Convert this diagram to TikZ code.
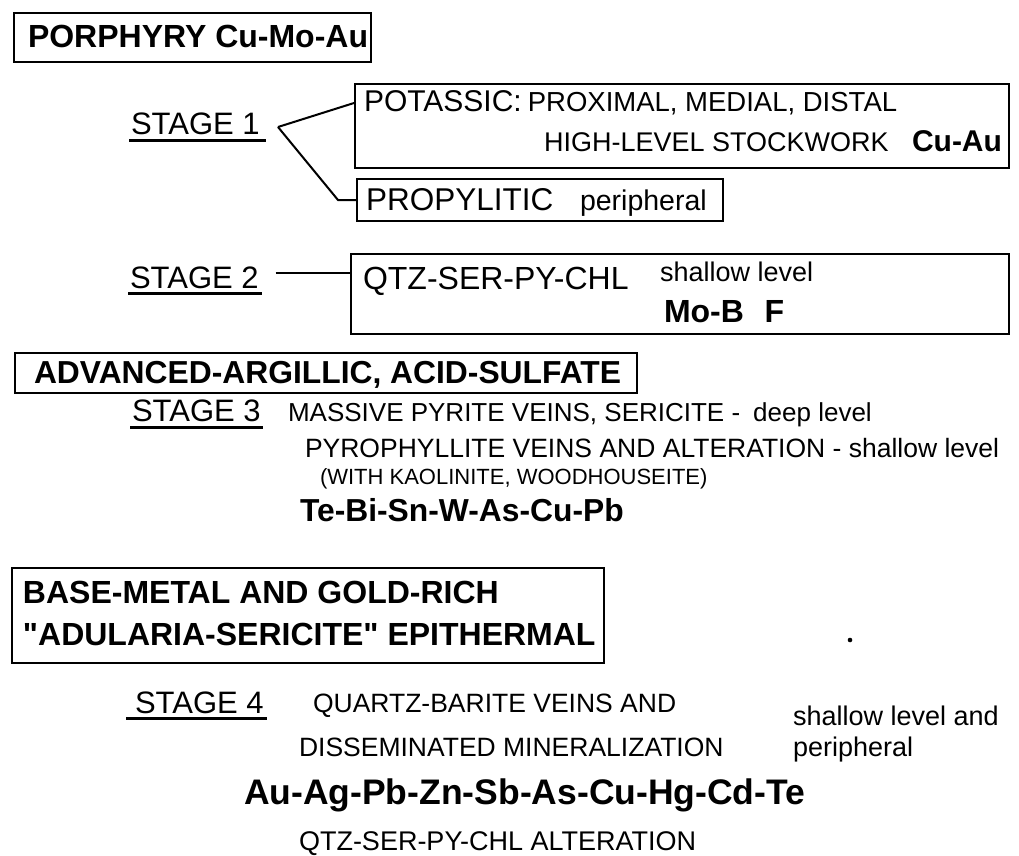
\documentclass[tikz,border=0pt]{standalone}
\usepackage{fontspec}
\setmainfont{Liberation Sans}
\usetikzlibrary{positioning}

\newcommand{\fsz}[1]{\fontsize{#1}{#1}\selectfont}
\newcommand{\sq}{\XeTeXglyph\XeTeXcharglyph"22\relax}

\tikzset{
  frame/.style={draw, line width=2pt, inner sep=0pt, anchor=north west},
  txt/.style={anchor=base west, inner sep=0pt, outer sep=0pt},
  stagelbl/.style={txt, font=\fsz{31}},
  uline/.style={line width=3pt},
  wire/.style={line width=2pt}
}

\begin{document}
\begin{tikzpicture}[x=1pt, y=-1pt]
\useasboundingbox (0,0) rectangle (1019,855);

% porphyry
\node (porphyry) [frame, minimum width=357pt, minimum height=49pt] at (13,12) {};
\node (porphyrytxt) [txt, font=\bfseries\fsz{32}] at (28,47) {PORPHYRY Cu-Mo-Au};

% stage 1
\node (stage1) [stagelbl] at (131,134) {STAGE 1};
\node (potassic) [frame, minimum width=654pt, minimum height=84pt] at (354,83) {};
\node (potassictxt) [txt, font=\fsz{30}] at (364,111) {POTASSIC:};
\node (proximal) [txt, font=\fsz{27.5}, right=6pt of potassictxt.base east, anchor=base west] {PROXIMAL, MEDIAL, DISTAL};
\node (highlevel) [txt, font=\fsz{27}] at (544,151) {HIGH-LEVEL STOCKWORK};
\node (cuau) [txt, font=\bfseries\fsz{30}] at (912,151) {Cu-Au};
\node (propylitic) [frame, minimum width=366pt, minimum height=42pt] at (356,178) {};
\node (propytxt) [txt, font=\fsz{31.5}] at (366,210) {PROPYLITIC};
\node (peripheral) [txt, font=\fsz{28.5}] at (580,210) {peripheral};

\draw [uline] ([xshift=-2pt,yshift=-6pt]stage1.south west) -- ([xshift=6pt,yshift=-6pt]stage1.south east);
\coordinate (fork1) at (278,127);
\draw [wire] (fork1) -- ([yshift=-20pt]potassic.north west);
\draw [wire] (fork1) -- ([xshift=-18pt]propylitic.west) -- (propylitic.west);

% stage 2
\node (stage2) [stagelbl] at (130,288) {STAGE 2};
\node (qtzbox) [frame, minimum width=658pt, minimum height=80pt] at (350,253) {};
\node (qtztxt) [txt, font=\fsz{32}] at (363,289) {QTZ-SER-PY-CHL};
\node (shallow2) [txt, font=\fsz{27}] at (660,281) {shallow level};
\node (mobf) [txt, font=\bfseries\fsz{32}] at (664,322) {Mo-B\hspace{0.65em}F};

\draw [uline] ([xshift=-2pt,yshift=-5pt]stage2.south west) -- ([xshift=3pt,yshift=-5pt]stage2.south east);
\draw [wire] ([xshift=17pt,yshift=4pt]stage2.east) -- ([yshift=4pt]stage2.east -| qtzbox.west);

% advanced argillic
\node (advanced) [frame, minimum width=622pt, minimum height=40pt] at (14,352) {};
\node (advtxt) [txt, font=\bfseries\fsz{31.8}] at (34,383) {ADVANCED-ARGILLIC, ACID-SULFATE};

% stage 3
\node (stage3) [stagelbl] at (132,421) {STAGE 3};
\node (massive) [txt, font=\fsz{26}] at (288,421) {MASSIVE PYRITE VEINS, SERICITE -\hspace{0.5em}deep level};
\node (pyro) [txt, font=\fsz{26.5}] at (305,457) {PYROPHYLLITE VEINS AND ALTERATION - shallow level};
\node (kaol) [txt, font=\fsz{22}] at (320,484) {(WITH KAOLINITE, WOODHOUSEITE)};
\node (tebi) [txt, font=\bfseries\fsz{31.8}] at (300,521) {Te-Bi-Sn-W-As-Cu-Pb};

\draw [uline] ([xshift=-2pt,yshift=-6pt]stage3.south west) -- ([xshift=2pt,yshift=-6pt]stage3.south east);

% base metal epithermal
\node (basemetal) [frame, minimum width=592pt, minimum height=95pt] at (11,567) {};
\node (basetxt) [txt, font=\bfseries\fsz{32}] at (23,603) {BASE-METAL AND GOLD-RICH};
\node (adularia) [txt, font=\bfseries\fsz{32}] at (23,645) {\sq ADULARIA-SERICITE\sq\ EPITHERMAL};
\fill (850,640) circle (2.3pt);

% stage 4
\node (stage4) [stagelbl] at (135,713) {STAGE 4};
\node (quartz) [txt, font=\fsz{26.5}] at (313,712) {QUARTZ-BARITE VEINS AND};
\node (dissem) [txt, font=\fsz{26.5}] at (299,756) {DISSEMINATED MINERALIZATION};
\node (shallow4) [txt, font=\fsz{27}] at (793,725) {shallow level and};
\node (periph4) [txt, font=\fsz{27}] at (793,756) {peripheral};
\node (auag) [txt, font=\bfseries\fsz{35.5}] at (244,804) {Au-Ag-Pb-Zn-Sb-As-Cu-Hg-Cd-Te};
\node (qtzalt) [txt, font=\fsz{27}] at (299,850) {QTZ-SER-PY-CHL ALTERATION};

\draw [uline] ([xshift=-9pt,yshift=-5pt]stage4.south west) -- ([xshift=3pt,yshift=-5pt]stage4.south east);

\end{tikzpicture}
\end{document}
